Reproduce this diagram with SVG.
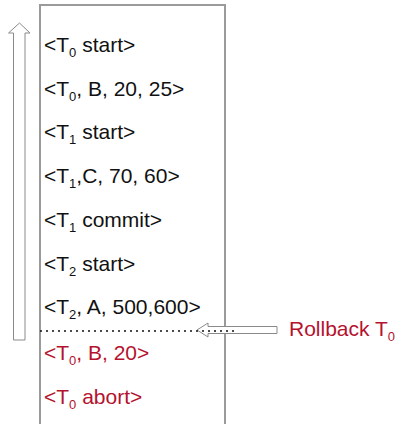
<svg xmlns="http://www.w3.org/2000/svg" width="400" height="424" viewBox="0 0 400 424">
  <style>
    .log { font-family: "Liberation Sans", Arial, sans-serif; font-size: 21px; fill: #111; }
    .red { fill: #b5122e; }
    .sub { font-size: 13px; }
    .frame { fill: none; stroke: #9a9a9a; stroke-width: 2; }
    .hollow { fill: #fff; stroke: #8a8a8a; stroke-width: 1; }
  </style>
  <rect width="400" height="424" fill="#fff"/>
  <!-- log frame, open at the bottom -->
  <path class="frame" d="M40,430 V5 H225 V430"/>
  <g id="entries">
    <g id="e1"><text class="log" x="44" y="52">&lt;T<tspan class="sub" dy="5">0</tspan><tspan dy="-5"> start&gt;</tspan></text></g>
    <g id="e2"><text class="log" x="44" y="96">&lt;T<tspan class="sub" dy="5">0</tspan><tspan dy="-5">, B, 20, 25&gt;</tspan></text></g>
    <g id="e3"><text class="log" x="44" y="139">&lt;T<tspan class="sub" dy="5">1</tspan><tspan dy="-5"> start&gt;</tspan></text></g>
    <g id="e4"><text class="log" x="44" y="183">&lt;T<tspan class="sub" dy="5">1</tspan><tspan dy="-5">,C, 70, 60&gt;</tspan></text></g>
    <g id="e5"><text class="log" x="44" y="227">&lt;T<tspan class="sub" dy="5">1</tspan><tspan dy="-5"> commit&gt;</tspan></text></g>
    <g id="e6"><text class="log" x="44" y="271">&lt;T<tspan class="sub" dy="5">2</tspan><tspan dy="-5"> start&gt;</tspan></text></g>
    <g id="e7"><text class="log" x="44" y="314">&lt;T<tspan class="sub" dy="5">2</tspan><tspan dy="-5">, A, 500,600&gt;</tspan></text></g>
    <g id="e8"><text class="log red" x="44" y="360">&lt;T<tspan class="sub" dy="5">0</tspan><tspan dy="-5">, B, 20&gt;</tspan></text></g>
    <g id="e9"><text class="log red" x="44" y="404">&lt;T<tspan class="sub" dy="5">0</tspan><tspan dy="-5"> abort&gt;</tspan></text></g>
  </g>
  <g id="connectors">
    <!-- scan direction -->
    <polygon class="hollow" points="13.5,340 25,340 25,33 30,33 19.5,23 8.5,33 13.5,33"/>
    <!-- rollback pointer, with the dotted cut line drawn over it -->
    <polygon class="hollow" points="277,326.5 277,333.5 208,333.5 208,337 197,330 208,323 208,326.5"/>
    <line x1="40" y1="331" x2="236" y2="331" stroke="#111" stroke-width="1.6" stroke-dasharray="2,4"/>
  </g>
  <g id="rollback-label">
    <text class="log red" x="289" y="336">Rollback T<tspan class="sub" dy="5">0</tspan></text>
  </g>
</svg>
